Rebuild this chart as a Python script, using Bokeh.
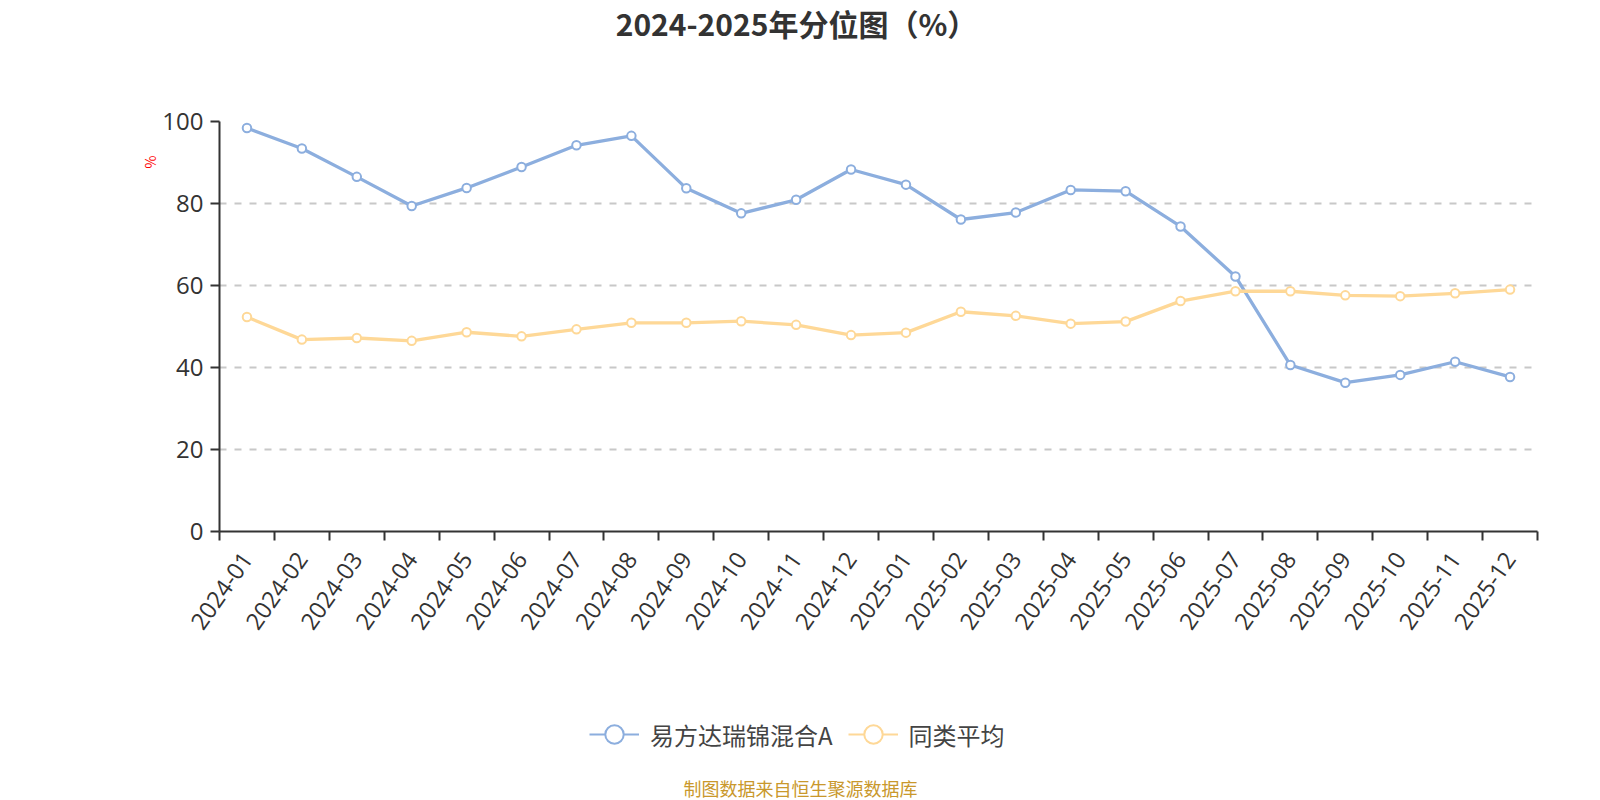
import math
from bokeh.plotting import figure
from bokeh.layouts import column
from bokeh.models import (Range1d, FixedTicker, Legend, LegendItem, ColumnDataSource,
                          Title, Label)
from bokeh.embed import file_html
from bokeh.resources import INLINE

months = ["2024-01", "2024-02", "2024-03", "2024-04", "2024-05", "2024-06",
          "2024-07", "2024-08", "2024-09", "2024-10", "2024-11", "2024-12",
          "2025-01", "2025-02", "2025-03", "2025-04", "2025-05", "2025-06",
          "2025-07", "2025-08", "2025-09", "2025-10", "2025-11", "2025-12"]
fund = [98.4, 93.4, 86.5, 79.4, 83.8, 88.9, 94.2, 96.5, 83.7, 77.6, 80.9, 88.3,
        84.6, 76.1, 77.8, 83.3, 83.0, 74.4, 62.2, 40.6, 36.3, 38.2, 41.4, 37.7]
peer = [52.3, 46.8, 47.2, 46.5, 48.6, 47.6, 49.3, 50.9, 50.9, 51.3, 50.4, 47.9,
        48.5, 53.6, 52.6, 50.7, 51.2, 56.2, 58.6, 58.6, 57.6, 57.4, 58.1, 59.0]
y_ticks = [0, 20, 40, 60, 80, 100]
series_names = ["易方达瑞锦混合A", "同类平均"]
title_text = "2024-2025年分位图（%）"
y_unit = "%"
footer_text = "制图数据来自恒生聚源数据库"

BLUE = "#8caede"
ORANGE = "#fed897"
AXIS = "#333333"
CJK = "Noto Sans CJK SC"

W = 1600
H1, H2, H3 = 80, 561, 159          # stacked heights: title / chart / legend+footer
L, R = 219, 1537                   # frame left / right (frames are aligned in the column)
FT = 121 - H1                      # top border of chart figure
FB = H2 - FT - 410                 # bottom border of chart figure

idx = list(range(len(months)))
src = ColumnDataSource(dict(x=idx, fund=fund, peer=peer, m=months))


def blank(h):
    f = figure(width=W, height=h, output_backend="svg", toolbar_location=None,
               min_border_left=L, min_border_right=W - R, min_border_top=0,
               min_border_bottom=0, x_range=Range1d(0, 1), y_range=Range1d(0, 1))
    f.axis.visible = False
    f.grid.visible = False
    f.outline_line_color = None
    f.background_fill_color = "white"
    f.border_fill_color = "white"
    return f


# ---- title strip
p1 = blank(H1)
p1.add_layout(Label(x=796 - L, y=H1 - 22, x_units="screen", y_units="screen",
                    text=title_text, text_font=CJK, text_font_style="bold",
                    text_font_size="30px", text_color="#333333",
                    text_align="center", text_baseline="middle"))

# ---- chart
p = figure(width=W, height=H2,
           x_range=Range1d(-0.5, len(months) - 0.5), y_range=Range1d(0, 100),
           output_backend="svg", toolbar_location=None,
           min_border_left=L, min_border_right=W - R,
           min_border_top=FT, min_border_bottom=FB)
p.outline_line_color = None
p.background_fill_color = "white"
p.border_fill_color = "white"

p.xgrid.visible = False
p.ygrid.ticker = FixedTicker(ticks=y_ticks)
p.ygrid.grid_line_color = "#c8c8c8"
p.ygrid.grid_line_dash = "7 8"
p.ygrid.grid_line_width = 2

p.yaxis.ticker = FixedTicker(ticks=y_ticks)
p.yaxis.axis_line_color = AXIS
p.yaxis.axis_line_width = 2
p.yaxis.major_tick_line_color = AXIS
p.yaxis.major_tick_line_width = 2
p.yaxis.major_tick_out = 9
p.yaxis.major_tick_in = 0
p.yaxis.minor_tick_out = 0
p.yaxis.minor_tick_in = 0
p.yaxis.major_label_text_font = "Open Sans"
p.yaxis.major_label_text_font_size = "24px"
p.yaxis.major_label_text_color = AXIS
p.yaxis.major_label_standoff = 7

p.xaxis.ticker = FixedTicker(ticks=idx, minor_ticks=[i - 0.5 for i in range(len(months) + 1)])
p.xaxis.major_label_overrides = {i: m for i, m in enumerate(months)}
p.xaxis.axis_line_color = AXIS
p.xaxis.axis_line_width = 2
p.xaxis.major_tick_out = 0
p.xaxis.major_tick_in = 0
p.xaxis.minor_tick_out = 9
p.xaxis.minor_tick_in = 0
p.xaxis.minor_tick_line_color = AXIS
p.xaxis.minor_tick_line_width = 2
p.xaxis.major_label_orientation = math.radians(55)
p.xaxis.major_label_text_font = "Open Sans"
p.xaxis.major_label_text_font_size = "23.5px"
p.xaxis.major_label_text_color = AXIS
p.xaxis.major_label_standoff = 14

p.line("x", "fund", source=src, line_color=BLUE, line_width=3.3)
p.scatter("x", "fund", source=src, size=8.5, fill_color="white",
          line_color=BLUE, line_width=2)
p.line("x", "peer", source=src, line_color=ORANGE, line_width=3.3)
p.scatter("x", "peer", source=src, size=8.5, fill_color="white",
          line_color=ORANGE, line_width=2)

p.add_layout(Title(text=y_unit, align="right", offset=34, standoff=0,
                   text_font=CJK, text_font_size="14px",
                   text_font_style="normal", text_color="#ff0000"), "left")

# ---- legend + footer strip
p3 = blank(H3)
k1 = p3.line("x", "fund", source=src, line_color=BLUE, line_width=2, visible=False)
k2 = p3.scatter("x", "fund", source=src, fill_color="white",
                line_color=BLUE, line_width=2, visible=False)
k3 = p3.line("x", "peer", source=src, line_color=ORANGE, line_width=2, visible=False)
k4 = p3.scatter("x", "peer", source=src, fill_color="white",
                line_color=ORANGE, line_width=2, visible=False)
legend = Legend(items=[LegendItem(label=series_names[0], renderers=[k1, k2]),
                       LegendItem(label=series_names[1], renderers=[k3, k4])],
                orientation="horizontal",
                location=(589 - L, H3 - (757 - (800 - H3))),
                glyph_width=50, glyph_height=46,
                label_standoff=11, spacing=15, padding=0, margin=0,
                border_line_color=None, background_fill_alpha=0,
                inactive_fill_alpha=0, click_policy="none",
                label_text_font=CJK, label_text_font_size="24px",
                label_text_color="#444444")
p3.add_layout(legend, "center")
p3.add_layout(Label(x=800 - L, y=800 - 787, x_units="screen", y_units="screen",
                    text=footer_text, text_font=CJK,
                    text_font_size="18px", text_color="#c9982c",
                    text_align="center", text_baseline="middle"))

layout = column(p1, p, p3, spacing=0)
open("out.html", "w").write(file_html(layout, INLINE))
